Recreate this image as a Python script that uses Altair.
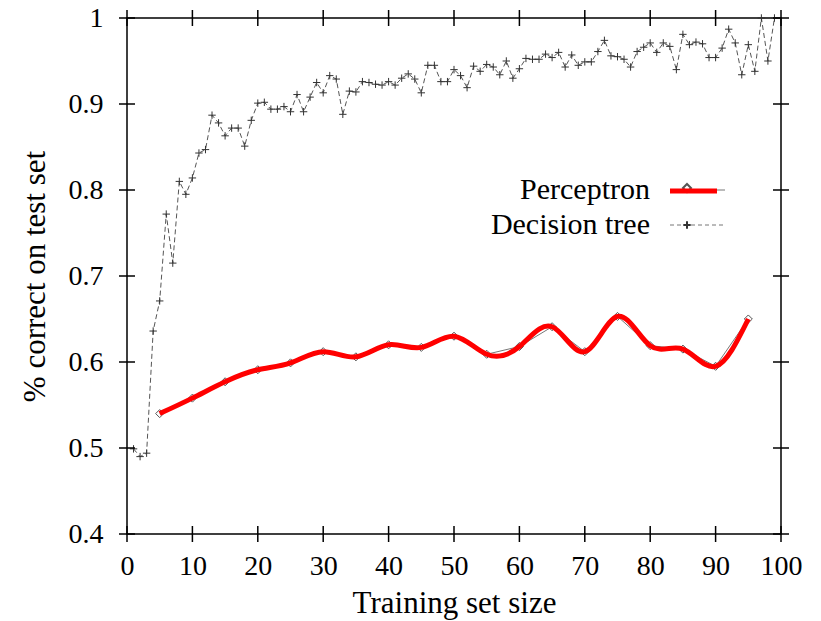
import altair as alt
import pandas as pd

# ---- data ----
dt_x = list(range(1, 100))
dt_y = [0.499, 0.490, 0.494, 0.636, 0.671, 0.772, 0.715, 0.810, 0.795, 0.814,
        0.843, 0.847, 0.887, 0.878, 0.863, 0.872, 0.872, 0.851, 0.881, 0.901,
        0.902, 0.894, 0.894, 0.897, 0.891, 0.911, 0.891, 0.908, 0.925, 0.913,
        0.933, 0.929, 0.888, 0.915, 0.914, 0.926, 0.925, 0.923, 0.922, 0.926,
        0.922, 0.930, 0.935, 0.929, 0.913, 0.945, 0.945, 0.926, 0.926, 0.940,
        0.933, 0.919, 0.944, 0.938, 0.946, 0.943, 0.934, 0.950, 0.930, 0.941,
        0.953, 0.952, 0.952, 0.958, 0.954, 0.960, 0.943, 0.957, 0.945, 0.949,
        0.949, 0.961, 0.974, 0.956, 0.955, 0.952, 0.943, 0.961, 0.966, 0.971,
        0.960, 0.971, 0.967, 0.940, 0.981, 0.969, 0.972, 0.970, 0.954, 0.954,
        0.965, 0.987, 0.971, 0.934, 0.969, 0.938, 1.000, 0.950, 1.000]

perc_x = list(range(5, 100, 5))
perc_y = [0.540, 0.558, 0.577, 0.591, 0.599, 0.612, 0.606, 0.620, 0.617, 0.630,
          0.609, 0.618, 0.641, 0.612, 0.653, 0.619, 0.615, 0.595, 0.650]

x_ticks = [0, 10, 20, 30, 40, 50, 60, 70, 80, 90, 100]
y_ticks = [0.4, 0.5, 0.6, 0.7, 0.8, 0.9, 1.0]
legend_labels = ["Perceptron", "Decision tree"]

x_title = "Training set size"
y_title = "% correct on test set"

# ---- layout ----
W, H = 654, 516
FONT = "Liberation Serif"
LFS = 28   # tick labels
TFS = 31   # axis titles
GFS = 30   # legend
TICK = 16

dt = pd.DataFrame({"x": dt_x, "y": dt_y})
pc = pd.DataFrame({"x": perc_x, "y": perc_y})
xt = pd.DataFrame({"tx": x_ticks})
yt = pd.DataFrame({"ty": y_ticks})
one = pd.DataFrame({"a": [0]})

xs = alt.Scale(domain=[0, 100], nice=False, zero=False, padding=0)
ys = alt.Scale(domain=[0.4, 1.0], nice=False, zero=False, padding=0)

ax_x = alt.Axis(orient="bottom", values=x_ticks, ticks=False, domain=False, grid=False,
                labelFont=FONT, labelFontSize=LFS, labelColor="black", labelPadding=18,
                labelFlush=False, labelOverlap=False,
                title=x_title, titleFont=FONT, titleFontSize=TFS, titleFontWeight="normal",
                titleColor="black", titleY=78, titleBaseline="alphabetic")
ax_y = alt.Axis(orient="left", values=y_ticks, ticks=False, domain=False, grid=False,
                format="~g", labelFont=FONT, labelFontSize=LFS, labelColor="black",
                labelPadding=24, labelFlush=False, labelOverlap=False,
                title=y_title, titleFont=FONT, titleFontSize=TFS, titleFontWeight="normal",
                titleColor="black", titleX=-92, titleBaseline="middle")

PLUS = "M-1,0L1,0M0,-1L0,1"

dt_line = alt.Chart(dt).mark_line(color="#555555", strokeWidth=1, strokeDash=[5, 3]).encode(
    x=alt.X("x:Q", scale=xs, axis=ax_x),
    y=alt.Y("y:Q", scale=ys, axis=ax_y),
)
dt_pts = alt.Chart(dt).mark_point(shape=PLUS, size=55, filled=False, color="#333333",
                                  strokeWidth=1, opacity=1).encode(
    x=alt.X("x:Q", scale=xs),
    y=alt.Y("y:Q", scale=ys),
)
pc_line = alt.Chart(pc).mark_line(color="#777777", strokeWidth=1).encode(
    x=alt.X("x:Q", scale=xs),
    y=alt.Y("y:Q", scale=ys),
)
pc_pts = alt.Chart(pc).mark_point(shape="diamond", size=65, filled=False, color="#555555",
                                  strokeWidth=1, opacity=1).encode(
    x=alt.X("x:Q", scale=xs),
    y=alt.Y("y:Q", scale=ys),
)
pc_spline = alt.Chart(pc).mark_line(color="#ff0000", strokeWidth=5, interpolate="natural").encode(
    x=alt.X("x:Q", scale=xs),
    y=alt.Y("y:Q", scale=ys),
)

# ---- tick marks on all four sides of the frame ----
tk = dict(color="#000000", thickness=1.5, size=TICK, opacity=1)
xt_bot = alt.Chart(xt).mark_tick(**tk).encode(
    x=alt.X("tx:Q", scale=xs), y=alt.value(H))
xt_top = alt.Chart(xt).mark_tick(**tk).encode(
    x=alt.X("tx:Q", scale=xs), y=alt.value(0))
yt_left = alt.Chart(yt).mark_tick(**tk).encode(
    y=alt.Y("ty:Q", scale=ys), x=alt.value(0))
yt_right = alt.Chart(yt).mark_tick(**tk).encode(
    y=alt.Y("ty:Q", scale=ys), x=alt.value(W))

# ---- legend (inside the plot, labels left of samples) ----
LX_TEXT, LX0, LX1, LX_MID = 523, 543, 598, 560
LY1, LY2 = 172, 207
leg_text1 = alt.Chart(one).mark_text(align="right", baseline="middle", font=FONT, fontSize=GFS,
                                     color="black").encode(
    x=alt.value(LX_TEXT), y=alt.value(LY1), text=alt.value(legend_labels[0]))
leg_text2 = alt.Chart(one).mark_text(align="right", baseline="middle", font=FONT, fontSize=GFS,
                                     color="black").encode(
    x=alt.value(LX_TEXT), y=alt.value(LY2), text=alt.value(legend_labels[1]))
leg_gray = alt.Chart(one).mark_rule(color="#777777", strokeWidth=1).encode(
    x=alt.value(LX0), x2=alt.value(LX1), y=alt.value(LY1))
leg_diam = alt.Chart(one).mark_point(shape="diamond", size=65, filled=False, color="#555555",
                                     opacity=1).encode(x=alt.value(LX_MID), y=alt.value(LY1 - 2))
leg_red = alt.Chart(one).mark_rule(color="#ff0000", strokeWidth=5).encode(
    x=alt.value(LX0), x2=alt.value(LX1 - 8), y=alt.value(LY1 + 1))
leg_dash = alt.Chart(one).mark_rule(color="#777777", strokeWidth=1, strokeDash=[4, 3]).encode(
    x=alt.value(LX0), x2=alt.value(LX1), y=alt.value(LY2))
leg_plus = alt.Chart(one).mark_point(shape=PLUS, size=55, filled=False, color="#333333",
                                     opacity=1).encode(x=alt.value(LX_MID), y=alt.value(LY2))

chart = alt.layer(
    dt_line, dt_pts, pc_line, pc_pts, pc_spline,
    leg_gray, leg_diam, leg_red, leg_dash, leg_plus, leg_text1, leg_text2,
    xt_bot, xt_top, yt_left, yt_right,
).properties(
    width=W, height=H,
    autosize=alt.AutoSizeParams(type="none"),
    padding={"left": 127, "top": 18, "right": 40, "bottom": 87},
    background="white",
).configure_view(stroke="black", strokeWidth=1.5)

chart.save("out.html", embed_options={"renderer": "svg", "actions": False})
